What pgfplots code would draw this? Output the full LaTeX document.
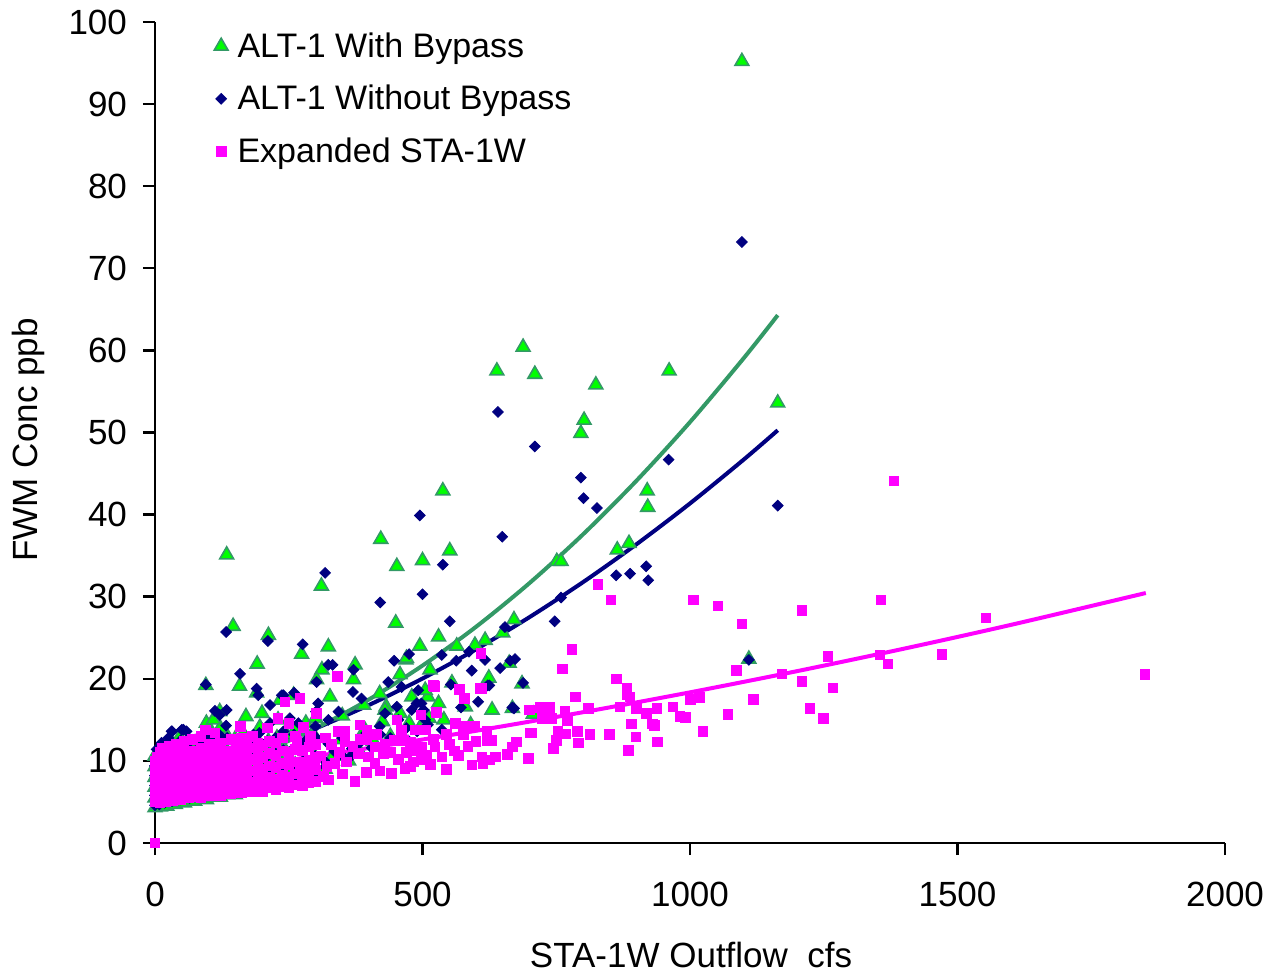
\documentclass[border=0pt]{standalone}
\usepackage{pgfplots}
\pgfplotsset{compat=1.18}
\usepackage{fontspec}
\setmainfont{Liberation Sans}
\definecolor{seagreen}{HTML}{339966}
\definecolor{brightgreen}{HTML}{00FF00}
\definecolor{navyb}{HTML}{000080}
\definecolor{magentab}{HTML}{FF00FF}
\begin{document}
\begin{tikzpicture}
\useasboundingbox (-77.5pt,-65pt) rectangle (561.5pt,421.5pt);
\begin{axis}[
  scale only axis, width=535pt, height=410.5pt,
  xmin=0, xmax=2000, ymin=0, ymax=100,
  xtick={0,500,1000,1500,2000}, ytick={0,10,...,100},
  axis lines*=left,
  axis line style={line width=1.2pt},
  tick style={line width=1.2pt, black},
  tick align=outside, major tick length=6pt,
  /pgf/number format/assume math mode=true,
  /pgf/number format/1000 sep={},
  tick label style={font=\fontsize{17.5}{20}\selectfont},
  xticklabel style={yshift=-10pt},
  yticklabel style={xshift=-4.5pt},
  xlabel={STA-1W Outflow\ \ cfs}, ylabel={FWM Conc ppb},
  label style={font=\fontsize{17.5}{20}\selectfont},
  xlabel style={at={(axis description cs:0.501,-0.1364)}, anchor=center},
  ylabel style={at={(axis description cs:-0.1187,0.491)}, anchor=center},
  clip=false,
  legend style={draw=none, fill=none, at={(rel axis cs:0.055,0.9927)}, anchor=north west,
    inner sep=0pt, row sep=8.5pt, font=\fontsize{17}{20}\selectfont},
  legend cell align=left,
  legend image code/.code={\draw[#1] plot coordinates {(0pt,0pt)}; \path (6pt,0pt);},
]
% ALT-1 With Bypass
\addplot[only marks, mark=triangle*, mark size=4pt, mark options={fill=brightgreen, draw=seagreen, line width=0.8pt}] coordinates {
(0,4.3)(0,5.5)(0,6.8)(0,8.0)(0,9.3)(0,10.6)
(5,4.6)(5,5.9)(5,7.2)(5,8.5)(5,9.8)
(10,4.4)(10,5.7)(10,7.0)(10,8.4)(10,9.9)(10,11.3)
(16,4.8)(16,6.1)(16,7.5)(16,8.9)(16,10.4)
(22,4.5)(22,5.9)(22,7.3)(22,8.7)(22,10.2)(22,11.8)
(30,4.9)(30,6.3)(30,7.7)(30,9.2)(30,10.8)(30,12.4)
(38,4.7)(38,6.1)(38,7.5)(38,9.0)(38,10.6)
(46,5.0)(46,6.5)(46,8.0)(46,9.6)(46,11.2)(46,12.9)
(55,4.9)(55,6.3)(55,7.8)(55,9.4)(55,11.0)
(64,5.2)(64,6.7)(64,8.2)(64,9.9)(64,11.6)
(74,5.1)(74,6.6)(74,8.1)(74,9.7)(74,11.4)
(84,5.4)(84,6.9)(84,8.5)(84,10.2)(84,12.0)
(96,5.3)(96,6.8)(96,8.4)(96,10.1)(96,11.9)(96,14.6)
(108,5.6)(108,7.2)(108,8.8)(108,10.6)(108,12.6)
(122,5.6)(122,7.0)(122,8.6)(122,10.4)(122,12.2)(122,14.0)
(136,5.9)(136,7.5)(136,9.2)(136,11.0)(136,12.9)
(150,5.9)(150,7.4)(150,9.0)(150,10.8)(150,12.7)
(165,6.2)(165,7.8)(165,9.5)(165,11.4)(165,13.3)
(180,6.3)(180,7.9)(180,9.7)(180,11.6)
(196,6.6)(196,8.2)(196,10.0)(196,12.0)(196,14.1)
(212,6.7)(212,8.5)(212,10.4)(212,12.4)
(228,7.0)(228,8.8)(228,10.7)(228,12.8)
(245,7.2)(245,9.1)(245,11.1)(245,13.3)
(262,7.5)(262,9.5)(262,11.6)(262,13.8)
(282,7.8)(282,9.9)(282,12.2)(282,14.6)
(300,8.2)(300,10.4)(300,12.8)(300,15.2)
(318,9.0)(333,10.6)(348,12.6)(362,10.0)(378,11.6)(392,13.8)(408,12.4)(425,14.8)(440,13.0)(458,15.8)(475,14.6)(495,14.0)(512,15.2)
(1097,95.2)(688,60.4)(639,57.5)(710,57.1)(824,55.8)(961,57.5)(802,51.5)(796,49.9)(1164,53.6)(538,42.9)(920,42.9)(921,40.9)(422,37.0)(551,35.6)(500,34.4)(452,33.7)(134,35.1)(311,31.3)(886,36.5)(864,35.7)(751,34.3)(759,34.3)(146,26.4)(450,26.8)(671,27.2)(212,25.3)(324,23.9)(274,23.0)(530,25.1)(617,24.7)(598,24.1)(650,25.6)(564,24.0)(158,19.1)(95,19.2)(191,21.8)(312,21.1)(374,21.7)(371,19.9)(469,22.3)(458,20.5)(514,21.1)(495,24.0)(470,22.5)(624,20.1)(686,19.4)(1110,22.4)(662,21.9)(327,17.8)(302,19.9)(555,19.5)(432,16.6)(510,17.8)(707,15.7)(668,16.4)(190,18.3)(234,17.4)(259,18.0)(109,15.0)(350,15.5)(390,16.8)(420,18.2)(480,17.8)(530,17.0)(580,16.6)(540,15.0)(590,14.4)(630,16.2)(121,16.0)(200,15.8)(230,15.0)(170,15.4)(505,18.6)(430,16.2)
};
\addlegendentry{ALT-1 With Bypass}
% ALT-1 Without Bypass
\addplot[only marks, mark=square*, mark size=1.9pt, mark options={fill=navyb, draw=navyb, rotate=45}] coordinates {
(0,4.6)(0,5.8)(0,7.0)(0,8.2)(0,9.4)
(3,5.2)(3,6.4)(3,7.6)(3,8.8)(3,10.2)(3,11.4)
(8,4.7)(8,6.0)(8,7.3)(8,8.6)(8,10.0)
(12,5.4)(12,6.8)(12,8.0)(12,9.5)(12,11.0)(12,12.2)
(18,4.9)(18,6.2)(18,7.6)(18,9.0)(18,10.4)
(25,5.5)(25,6.9)(25,8.3)(25,9.8)(25,11.6)(25,12.8)
(32,5.1)(32,6.4)(32,7.8)(32,9.3)(32,10.8)(32,13.6)
(40,5.6)(40,7.1)(40,8.5)(40,10.1)(40,11.8)
(48,5.3)(48,6.7)(48,8.0)(48,9.6)(48,12.5)(50,13.8)
(56,5.8)(56,7.3)(56,8.8)(56,10.6)(59,13.6)
(65,5.5)(65,6.9)(65,8.4)(65,10.0)(65,11.4)
(75,5.9)(75,7.6)(75,9.2)(75,10.8)(75,12.6)
(85,5.7)(85,7.1)(85,8.6)(85,10.3)(85,12.0)
(95,6.0)(95,7.8)(95,9.4)(95,11.2)(95,13.0)
(108,6.1)(108,7.4)(108,9.0)(108,10.6)(108,12.4)
(120,6.3)(120,8.0)(120,9.7)(120,11.5)(120,13.2)
(135,6.4)(135,7.7)(135,9.3)(135,10.9)(135,12.8)
(150,6.6)(150,8.3)(150,10.0)(150,11.7)
(165,6.8)(165,8.1)(165,9.6)(165,11.2)(165,12.6)
(180,7.0)(180,8.6)(180,10.3)(180,12.1)
(195,7.1)(195,8.4)(195,9.9)(195,11.6)(195,13.4)
(210,7.3)(210,8.9)(210,10.6)(210,12.4)
(225,7.5)(225,9.2)(225,10.9)(225,12.8)
(240,7.7)(240,9.0)(240,11.3)(240,13.6)
(260,8.0)(260,9.6)(260,11.6)(260,13.2)
(280,8.2)(280,10.2)(280,12.4)
(300,8.6)(300,10.6)(300,12.9)(300,14.2)
(320,9.8)(335,11.2)(350,12.8)(365,10.5)(380,12.0)(395,13.4)(405,11.6)(420,14.2)(440,12.8)(455,15.0)(470,14.0)(490,13.6)(510,14.4)
(1097,73.2)(641,52.5)(710,48.3)(960,46.7)(796,44.5)(801,42.0)(826,40.8)(1164,41.1)(495,39.9)(649,37.3)(421,29.3)(500,30.3)(318,32.9)(538,33.9)(759,29.9)(862,32.6)(888,32.8)(918,33.7)(922,32.0)(133,25.7)(211,24.6)(276,24.2)(551,27.0)(747,27.0)(654,26.3)(159,20.6)(95,19.3)(190,18.8)(324,21.7)(332,21.7)(371,21.1)(447,22.2)(475,23.0)(536,22.9)(563,22.2)(587,23.3)(592,21.0)(617,22.3)(645,21.3)(664,22.2)(673,22.4)(671,16.4)(604,17.2)(1110,22.3)(625,19.2)(688,19.5)(668,16.5)(436,19.6)(461,19.0)(492,18.6)(553,19.3)(302,19.6)(370,18.4)(240,18.0)(260,18.3)(305,17.0)(343,16.0)(386,17.6)(430,15.8)(452,16.6)(480,16.2)(498,17.0)(505,15.0)(572,16.5)(268,14.6)(324,15.0)(421,13.2)(473,12.5)(536,13.8)(274,11.7)(324,12.1)(368,11.5)(271,9.3)(318,9.3)(355,10.3)(489,17.0)(502,16.2)(112,16.1)(121,15.6)(134,16.2)(133,14.3)(252,15.2)(215,16.8)(184,13.2)(31,13.6)(53,13.8)(215,14.6)(193,18.0)(237,18.0)(622,19.2)(301,16.0)
};
\addlegendentry{ALT-1 Without Bypass}
% Expanded STA-1W
\addplot[only marks, mark=square*, mark size=2.4pt, mark options={fill=magentab, draw=magentab}] coordinates {
(0,0)
(0,5.0)(0,6.0)(0,7.0)(0,8.0)(0,9.0)(0,10.0)
(4,5.5)(4,6.5)(4,7.5)(4,8.5)(4,9.5)(4,10.5)
(9,4.9)(9,5.9)(9,6.9)(9,7.9)(9,8.9)(9,9.9)(9,11.0)
(14,5.4)(14,6.4)(14,7.4)(14,8.4)(14,9.4)(14,10.4)(14,11.5)
(20,5.0)(20,6.0)(20,7.0)(20,8.0)(20,9.0)(20,10.0)(20,11.2)
(26,5.5)(26,6.5)(26,7.5)(26,8.5)(26,9.5)(26,10.6)(26,11.8)
(33,5.2)(33,6.2)(33,7.2)(33,8.2)(33,9.2)(33,10.2)(33,11.4)
(40,5.6)(40,6.6)(40,7.6)(40,8.6)(40,9.7)(40,10.8)(40,12.0)
(47,5.3)(47,6.3)(47,7.3)(47,8.3)(47,9.3)(47,10.4)
(54,5.7)(54,6.7)(54,7.7)(54,8.7)(54,9.8)(54,11.0)(54,12.4)
(62,5.5)(62,6.5)(62,7.5)(62,8.5)(62,9.5)(62,10.6)
(70,5.8)(70,6.8)(70,7.8)(70,8.8)(70,9.9)(70,11.2)(70,12.6)
(78,5.6)(78,6.6)(78,7.6)(78,8.6)(78,9.7)(78,10.8)
(86,5.5)(86,6.9)(86,7.9)(86,9.0)(86,10.2)(86,11.6)(86,13.0)
(94,5.9)(94,6.9)(94,8.0)(94,9.2)(94,10.4)(94,13.8)
(102,5.8)(102,7.1)(102,8.2)(102,9.4)(102,10.7)(102,12.0)
(112,6.0)(112,7.2)(112,8.4)(112,9.6)(112,11.0)(112,13.4)
(122,5.8)(122,7.0)(122,8.2)(122,9.4)(122,10.6)(122,12.2)
(132,6.2)(132,7.4)(132,8.6)(132,9.8)(132,11.2)
(142,6.0)(142,7.2)(142,8.4)(142,9.7)(142,11.0)(142,12.6)
(152,6.3)(152,7.6)(152,8.8)(152,10.1)(152,11.5)
(162,6.1)(162,7.3)(162,8.6)(162,9.9)(162,11.3)(162,12.8)
(172,6.5)(172,7.8)(172,9.1)(172,10.4)(172,11.8)
(182,6.2)(182,7.4)(182,8.8)(182,10.2)(182,11.6)(182,13.0)
(192,6.6)(192,7.9)(192,9.2)(192,10.6)(192,12.1)
(202,6.3)(202,7.6)(202,9.0)(202,10.4)(202,11.9)
(214,6.7)(214,8.0)(214,9.4)(214,10.9)(214,12.4)
(226,6.5)(226,7.8)(226,9.2)(226,10.7)(226,12.2)
(238,6.9)(238,8.2)(238,9.7)(238,11.2)(238,12.8)
(250,6.7)(250,8.0)(250,9.5)(250,11.0)
(262,7.1)(262,8.4)(262,9.9)(262,11.4)(262,13.0)
(275,7.0)(275,8.3)(275,9.8)(275,11.3)
(288,7.3)(288,8.6)(288,10.1)(288,11.7)
(300,7.5)(300,8.9)(300,10.4)(300,12.0)
(302,15.8)(277,14.1)(318,12.8)(343,13.6)(355,13.6)(355,12.3)(383,14.4)(396,13.8)(383,12.6)(396,12.6)(411,11.7)(452,15.0)(461,13.8)(486,13.8)(505,13.8)(497,15.6)(526,15.9)(522,19.1)(569,18.7)(578,17.6)(607,18.8)(609,23.1)(561,14.6)(579,14.2)(598,14.2)(545,13.2)(576,13.2)(620,13.6)(620,12.5)(464,12.5)(477,12.3)(448,12.5)(461,12.5)(498,11.7)(523,11.7)(508,10.7)(536,10.5)(567,10.7)(592,9.5)(611,10.5)(483,9.9)(498,10.1)(467,9.1)(477,9.3)(442,8.5)(411,9.7)(427,10.9)(399,10.5)(380,10.9)(358,9.9)(336,9.7)(321,9.3)(299,9.3)(287,8.9)(271,8.7)(324,7.7)(315,8.1)(374,7.5)(341,20.3)(271,17.6)(243,17.2)(230,15.2)(250,14.6)(210,14.0)(160,14.2)(520,19.2)(430,12.0)(415,13.2)(440,11.0)(455,10.2)(370,11.8)(345,11.0)(330,12.0)(310,10.6)(290,13.0)(265,12.4)(520,12.6)(550,12.0)(585,11.8)(600,12.4)(560,11.2)(490,11.2)(470,11.0)(515,9.6)(545,9.0)(420,8.8)(395,8.6)(350,8.4)
(1381,44.1)(828,31.5)(852,29.6)(1006,29.6)(1052,28.9)(1097,26.7)(1209,28.3)(1357,29.6)(1553,27.4)(1370,21.8)(1355,22.9)(1258,22.7)(1471,23.0)(1850,20.5)(1172,20.6)(1209,19.7)(1267,18.9)(1118,17.5)(1224,16.4)(1249,15.2)(1071,15.7)(1024,13.6)(1087,21.0)(779,23.6)(761,21.2)(862,20.0)(882,18.9)(882,18.1)(786,17.8)(810,16.4)(869,16.6)(888,17.8)(900,16.4)(919,15.8)(938,16.4)(968,16.6)(981,15.4)(991,15.3)(1001,17.5)(1017,17.7)(890,14.5)(899,12.9)(939,12.3)(885,11.3)(930,14.5)(933,14.3)(849,13.2)(813,13.2)(791,12.2)(790,13.6)(768,13.3)(766,16.0)(771,14.9)(753,13.6)(750,12.5)(745,11.5)(703,13.4)(698,10.3)(676,12.3)(668,11.7)(659,10.8)(636,10.5)(626,10.1)(613,9.7)(629,12.5)(620,13.0)(611,18.8)(737,16.5)(720,16.5)(700,16.2)(741,15.2)(723,15.2)(702,13.4)
};
\addlegendentry{Expanded STA-1W}
% trend lines
\addplot[navyb, line width=2pt, smooth, forget plot] coordinates {
(0,7.47)(100,9.28)(200,11.44)(300,13.95)(400,16.81)(500,20.03)(600,23.59)(700,27.51)(800,31.77)(900,36.39)(1000,41.36)(1100,46.68)(1164,50.27)};
\addplot[seagreen, line width=2pt, smooth, forget plot] coordinates {
(0,7.06)(100,8.76)(200,11.06)(300,13.97)(400,17.49)(500,21.61)(600,26.33)(700,31.66)(800,37.59)(900,44.13)(1000,51.27)(1100,59.02)(1164,64.29)};
\addplot[magentab, line width=2pt, smooth, forget plot] coordinates {
(0,7.85)(200,9.63)(400,11.57)(600,13.67)(800,15.93)(1000,18.35)(1200,20.93)(1400,23.67)(1600,26.57)(1852,30.45)};
\end{axis}
\end{tikzpicture}
\end{document}
